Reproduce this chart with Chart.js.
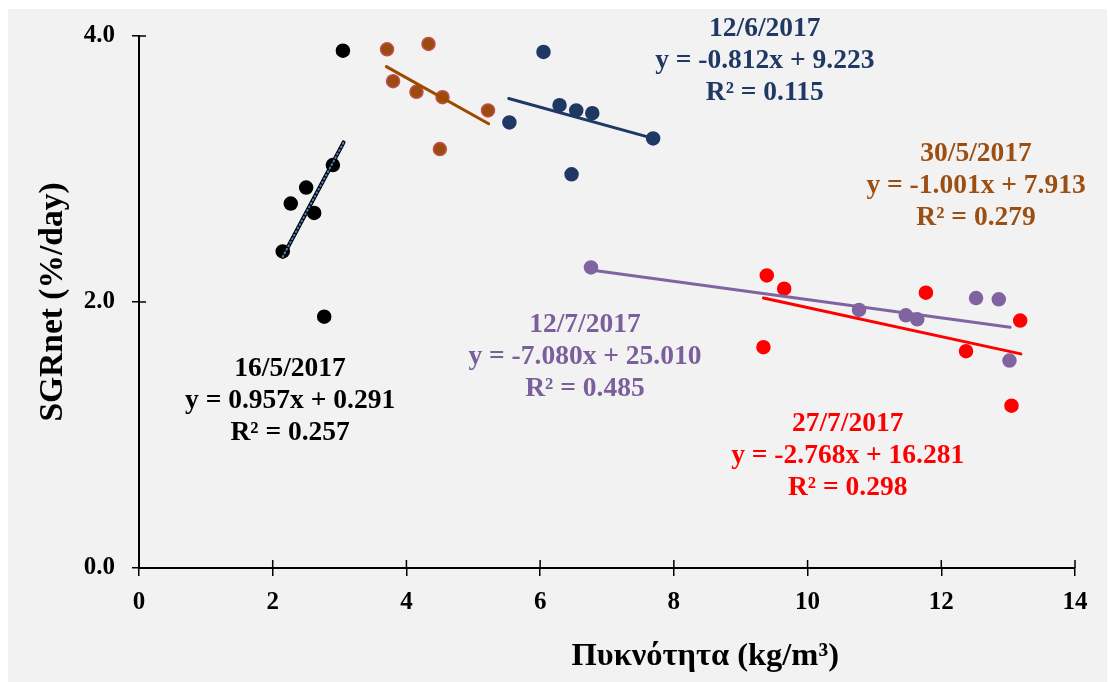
<!DOCTYPE html>
<html>
<head>
<meta charset="utf-8">
<script src="https://cdn.jsdelivr.net/npm/chart.js@4.4.1/dist/chart.umd.min.js"></script>
<style>
  html, body { margin: 0; padding: 0; background: #fff; }
  #wrap { width: 1109px; height: 682px; position: relative; }
</style>
</head>
<body>
<div id="wrap"><canvas id="sgrChart"></canvas></div>
<script>
// Values (x: kg/m3, y: %/day)
const may16X = [2.15, 2.27, 2.50, 2.62, 2.90, 3.05, 2.77];
const may16Y = [2.38, 2.74, 2.86, 2.67, 3.03, 3.89, 1.89];
const may16TrendX = [2.15, 3.06];
const may16TrendY = [2.34, 3.20];

const may30X = [3.71, 4.33, 3.80, 4.15, 4.54, 5.22, 4.50];
const may30Y = [3.90, 3.94, 3.66, 3.58, 3.54, 3.44, 3.15];
const may30TrendX = [3.70, 5.23];
const may30TrendY = [3.77, 3.34];

const jun12X = [6.05, 6.29, 6.54, 6.78, 7.69, 5.54, 6.47];
const jun12Y = [3.88, 3.48, 3.44, 3.42, 3.23, 3.35, 2.96];
const jun12TrendX = [5.53, 7.69];
const jun12TrendY = [3.53, 3.23];

const jul12X = [6.76, 10.77, 11.47, 11.64, 12.52, 12.86, 13.02];
const jul12Y = [2.26, 1.94, 1.90, 1.87, 2.03, 2.02, 1.56];
const jul12TrendX = [6.76, 13.03];
const jul12TrendY = [2.24, 1.81];

const jul27X = [9.39, 9.65, 11.77, 13.18, 9.34, 12.37, 13.05];
const jul27Y = [2.20, 2.10, 2.07, 1.86, 1.66, 1.63, 1.22];
const jul27TrendX = [9.34, 13.19];
const jul27TrendY = [2.03, 1.61];

const xTicks = [0, 2, 4, 6, 8, 10, 12, 14];
const yTicks = [0, 2, 4];

// Equation labels: three lines each, anchored (middle line) in data units
const labelLines = [
  ['16/5/2017', 'y = 0.957x + 0.291', 'R² = 0.257'],
  ['12/7/2017', 'y = -7.080x + 25.010', 'R² = 0.485'],
  ['27/7/2017', 'y = -2.768x + 16.281', 'R² = 0.298'],
  ['30/5/2017', 'y = -1.001x + 7.913', 'R² = 0.279'],
  ['12/6/2017', 'y = -0.812x + 9.223', 'R² = 0.115']
];
const labelX = [2.26, 6.67, 10.60, 12.52, 9.36];
const labelY = [1.256, 1.586, 0.842, 2.872, 3.81];
const labelColors = ['#000000', '#7b5e9c', '#ff0000', '#9c4f12', '#1f3864'];

const xTitle = 'Πυκνότητα (kg/m³)';
const yTitle = 'SGRnet (%/day)';

const serif = '"Liberation Serif", "Times New Roman", serif';

function pts(xs, ys) {
  return xs.map((x, i) => ({ x: x, y: ys[i] }));
}

function scatterSet(label, xs, ys, fill, border) {
  return {
    type: 'scatter',
    label: label,
    data: pts(xs, ys),
    backgroundColor: fill,
    borderColor: border,
    borderWidth: 1.5,
    pointRadius: 6.5,
    order: 5
  };
}

function trendSet(label, xs, ys, color, width, dash) {
  return {
    type: 'line',
    label: label,
    data: pts(xs, ys),
    borderColor: color,
    borderWidth: width,
    borderDash: dash || [],
    borderCapStyle: 'round',
    pointRadius: 0,
    fill: false,
    tension: 0,
    order: 1
  };
}

// Gray panel behind everything
const panelPlugin = {
  id: 'panel',
  beforeDraw(chart) {
    const ctx = chart.ctx;
    ctx.save();
    ctx.fillStyle = '#ffffff';
    ctx.fillRect(0, 0, chart.width, chart.height);
    ctx.fillStyle = '#f2f2f2';
    ctx.fillRect(8, 9, chart.width - 10, chart.height - 9);
    ctx.restore();
  }
};

// Inner halves of the tick marks (ticks cross the axes)
const innerTicks = {
  id: 'innerTicks',
  afterDatasetsDraw(chart) {
    const ctx = chart.ctx;
    const xs = chart.scales.x, ys = chart.scales.y;
    const area = chart.chartArea;
    ctx.save();
    ctx.strokeStyle = '#000';
    ctx.lineWidth = 1.5;
    ctx.beginPath();
    xs.ticks.forEach((t, i) => {
      const px = xs.getPixelForTick(i);
      ctx.moveTo(px, area.bottom);
      ctx.lineTo(px, area.bottom - 8);
    });
    ys.ticks.forEach((t, i) => {
      const py = ys.getPixelForTick(i);
      ctx.moveTo(area.left, py);
      ctx.lineTo(area.left + 7, py);
    });
    ctx.stroke();
    ctx.restore();
  }
};

// Regression equation texts and the x axis title (sits right of centre)
const equationPlugin = {
  id: 'equations',
  afterDatasetsDraw(chart) {
    const ctx = chart.ctx;
    const xs = chart.scales.x, ys = chart.scales.y;
    ctx.save();
    ctx.font = 'bold 27.5px ' + serif;
    ctx.textAlign = 'center';
    ctx.textBaseline = 'middle';
    labelLines.forEach((lines, i) => {
      const cx = xs.getPixelForValue(labelX[i]);
      const cy = ys.getPixelForValue(labelY[i]);
      ctx.fillStyle = labelColors[i];
      lines.forEach((line, j) => {
        ctx.fillText(line, cx, cy + (j - 1) * 32);
      });
    });
    ctx.fillStyle = '#000';
    ctx.font = 'bold 32.5px ' + serif;
    ctx.fillText(xTitle, xs.getPixelForValue(8.47), 657);
    ctx.restore();
  }
};

const ctx = document.getElementById('sgrChart').getContext('2d');
new Chart(ctx, {
  data: {
    datasets: [
      trendSet('16/5 trend dots', may16TrendX, may16TrendY, '#4f81bd', 2, [1, 3]),
      trendSet('16/5 trend', may16TrendX, may16TrendY, '#000000', 4),
      trendSet('30/5 trend', may30TrendX, may30TrendY, '#9c4a00', 3),
      trendSet('12/6 trend', jun12TrendX, jun12TrendY, '#1f3864', 3),
      trendSet('12/7 trend', jul12TrendX, jul12TrendY, '#8064a2', 3),
      trendSet('27/7 trend', jul27TrendX, jul27TrendY, '#ff0000', 3),
      scatterSet('16/5/2017', may16X, may16Y, '#000000', '#000000'),
      scatterSet('30/5/2017', may30X, may30Y, '#9c4a0f', '#c0504d'),
      scatterSet('12/6/2017', jun12X, jun12Y, '#1f3864', '#1f3864'),
      scatterSet('12/7/2017', jul12X, jul12Y, '#8064a2', '#8064a2'),
      scatterSet('27/7/2017', jul27X, jul27Y, '#ff0000', '#ff0000')
    ]
  },
  options: {
    responsive: true,
    maintainAspectRatio: false,
    animation: false,
    layout: { padding: { top: 36, right: 34, left: 0, bottom: 0 } },
    plugins: {
      legend: { display: false },
      tooltip: { enabled: false }
    },
    scales: {
      x: {
        type: 'linear',
        min: 0,
        max: 14,
        afterBuildTicks(scale) {
          scale.ticks = xTicks.map(v => ({ value: v }));
        },
        afterFit(scale) { scale.height = 114; },
        grid: { drawOnChartArea: false, drawTicks: true, tickLength: 8, color: '#000', lineWidth: 1.5 },
        border: { color: '#000', width: 2 },
        ticks: {
          color: '#000',
          padding: 12,
          font: { family: serif, size: 25, weight: 'bold' }
        },
        title: { display: false }
      },
      y: {
        type: 'linear',
        min: 0,
        max: 4,
        afterBuildTicks(scale) {
          scale.ticks = yTicks.map(v => ({ value: v }));
        },
        afterFit(scale) { scale.width = 139; },
        grid: { drawOnChartArea: false, drawTicks: true, tickLength: 7, color: '#000', lineWidth: 1.5 },
        border: { color: '#000', width: 2 },
        ticks: {
          color: '#000',
          padding: 17,
          callback: v => v.toFixed(1),
          font: { family: serif, size: 25, weight: 'bold' }
        },
        title: {
          display: true,
          text: yTitle,
          color: '#000',
          padding: { top: 33, bottom: 0 },
          font: { family: serif, size: 33.5, weight: 'bold' }
        }
      }
    }
  },
  plugins: [panelPlugin, innerTicks, equationPlugin]
});
</script>
</body>
</html>
